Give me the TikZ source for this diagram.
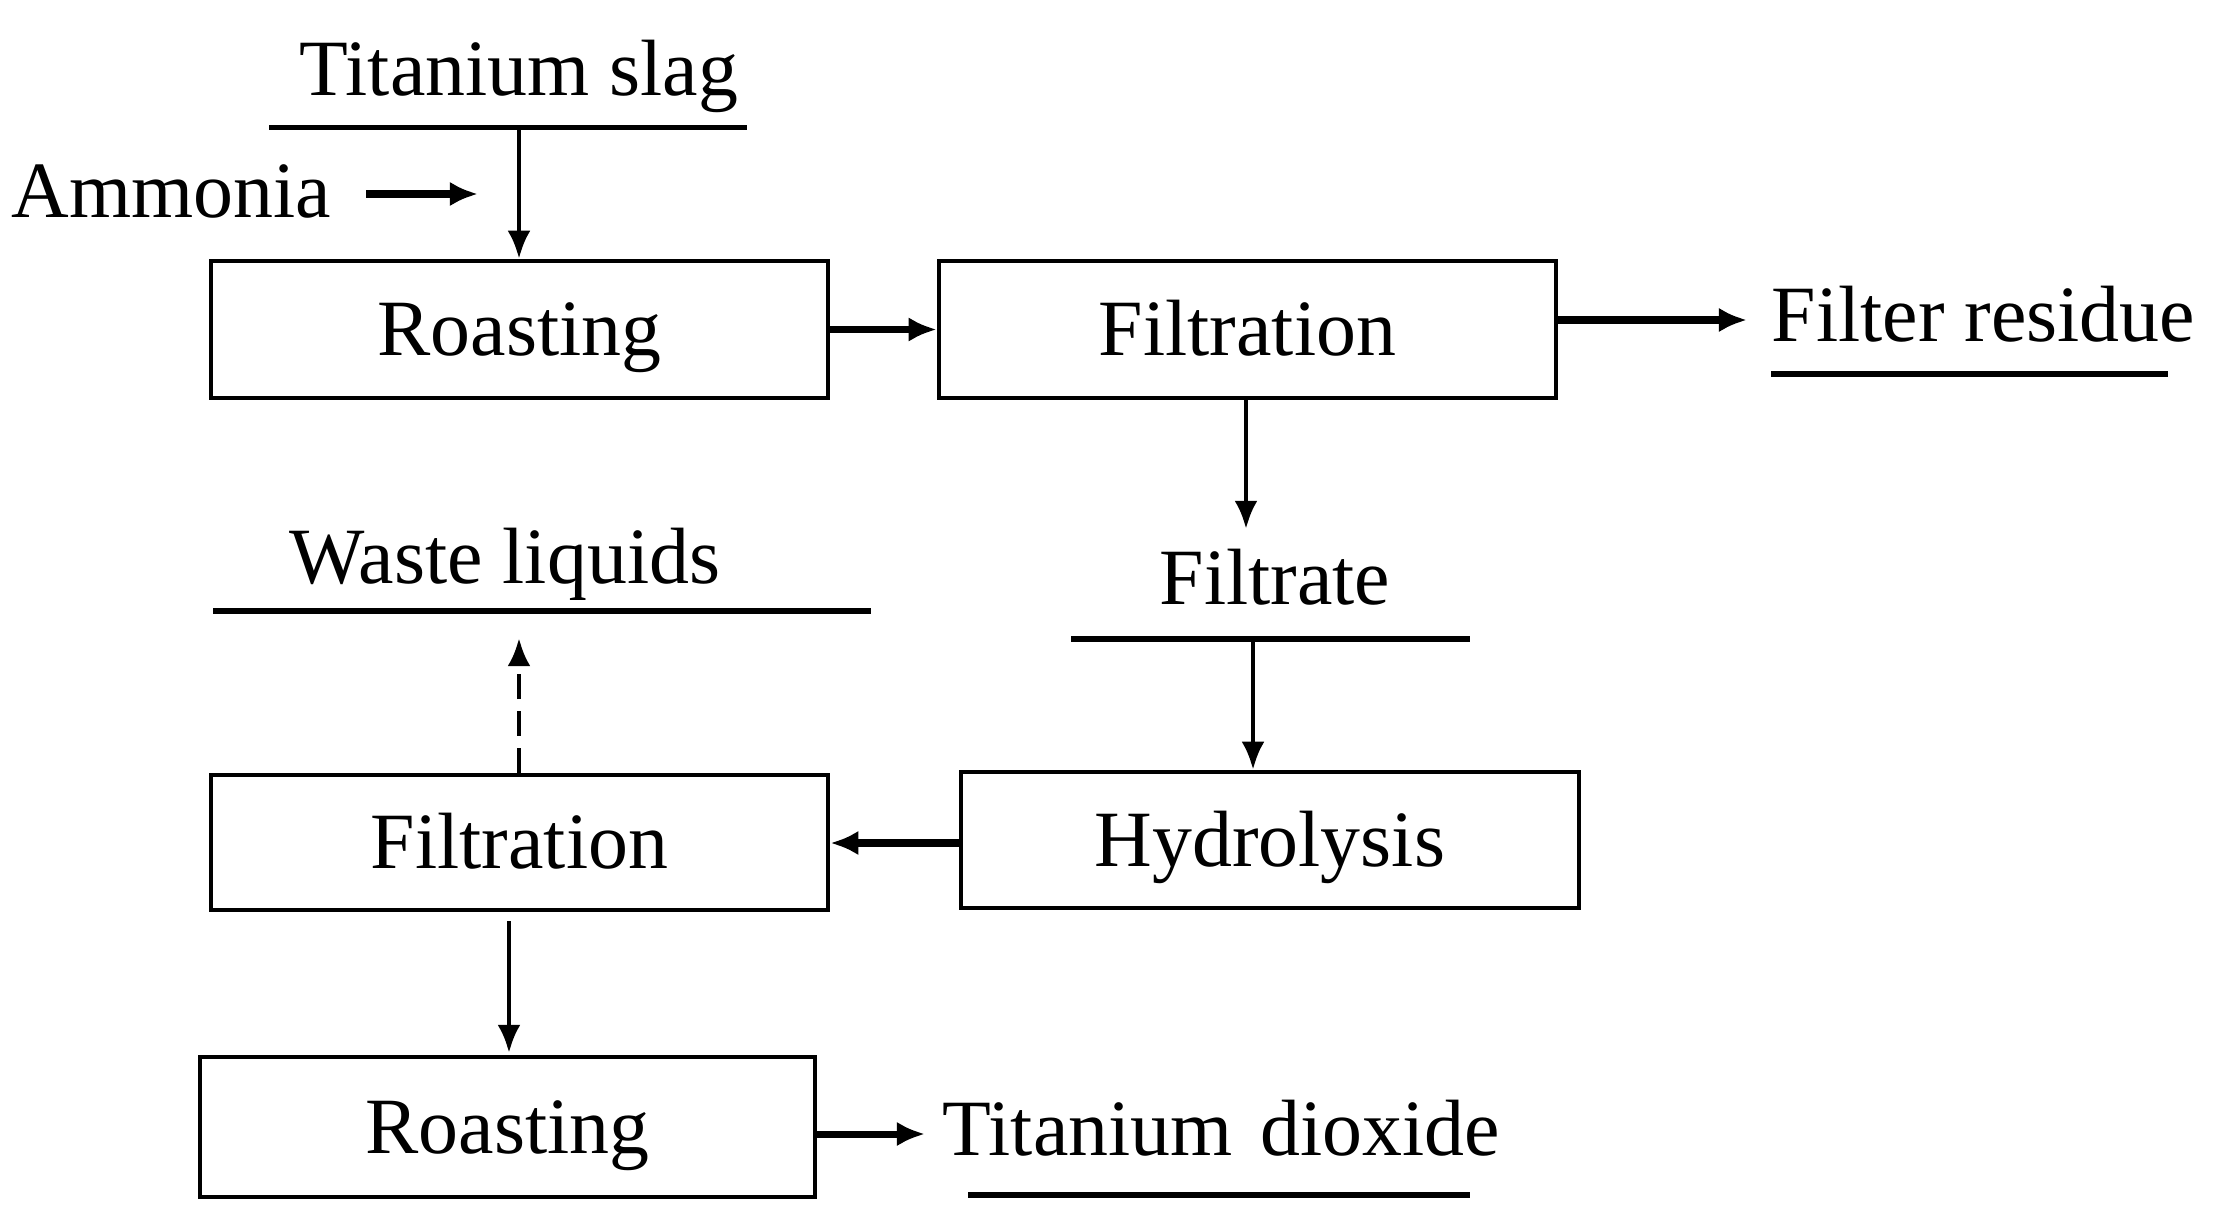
\documentclass[tikz,border=0pt]{standalone}
\usepackage{fontspec}
\setmainfont{Liberation Serif}
\usetikzlibrary{arrows.meta}
\begin{document}
\begin{tikzpicture}[x=0.01cm,y=-0.01cm,
  every node/.style={font=\fontsize{22.7}{27}\selectfont, inner sep=0pt, text height=15pt, text depth=0pt},
  procbox/.style={draw, line width=1.2pt, minimum width=6.17cm, minimum height=1.37cm},
  lbl/.style={},
  bar/.style={line width=1.7pt},
  flow/.style={line width=1.3pt, -{Latex[length=8pt,width=6.5pt]}},
  thickflow/.style={line width=2pt, -{Latex[length=8pt,width=7pt]}},
  dashflow/.style={flow, dash pattern=on 7pt off 3.5pt}]
\useasboundingbox (0,0) rectangle (2222,1224);
% boxes
\node[procbox] (r1) at (519.5,329.5) {Roasting};
\node[procbox] (f1) at (1247.5,329.5) {Filtration};
\node[procbox, minimum height=1.36cm, minimum width=6.18cm] (hy) at (1270,840) {Hydrolysis};
\node[procbox, minimum height=1.35cm] (f2) at (519.5,842.5) {Filtration};
\node[procbox, minimum height=1.40cm, minimum width=6.15cm] (r2) at (507.5,1127) {Roasting};
% labels
\node[lbl] (slag) at (519,69) {Titanium slag};
\node[lbl, anchor=west] (amm) at (11,191) {Ammonia};
\node[lbl, anchor=west] (res) at (1771,315) {Filter residue};
\node[lbl] (filt) at (1275,578) {Filtrate};
\node[lbl] (waste) at (505,557) {Waste liquids};
\node[lbl, anchor=west] (tio) at (942,1129) {Titanium\hspace{0.1em} dioxide};
% underlines
\draw[bar] (269,127.5) -- (747,127.5);
\coordinate (slagbar) at (519,127.5);
\draw[bar] (1771,374) -- (2168,374);
\draw[bar] (1071,639) -- (1470,639);
\coordinate (filtbar) at (1253,639);
\draw[bar] (213,611) -- (871,611);
\draw[bar] (968,1195) -- (1470,1195);
% coordinates for free ends
\coordinate (ammS) at (366,194);
\coordinate (ammE) at (478,194);
\coordinate (resE) at (1747,320);
\coordinate (filtE) at (1246,529);
\coordinate (wasteE) at (519,638);
\coordinate (tioE) at (925,1134);
% connectors
\draw[flow] (slagbar) -- (slagbar |- r1.north);
\draw[thickflow] (ammS) -- (ammE);
\draw[thickflow] (r1.east) -- (f1.west);
\draw[thickflow] (f1.east |- resE) -- (resE);
\draw[flow] (f1.south -| filtE) -- (filtE);
\draw[flow] (filtbar) -- (filtbar |- hy.north);
\draw[thickflow] (hy.west |- 0,843) -- (f2.east |- 0,843);
\draw[dashflow] (f2.north -| wasteE) -- (wasteE);
\draw[flow] (509,921) -- (509,1053);
\draw[thickflow] (r2.east |- tioE) -- (tioE);
\end{tikzpicture}
\end{document}
